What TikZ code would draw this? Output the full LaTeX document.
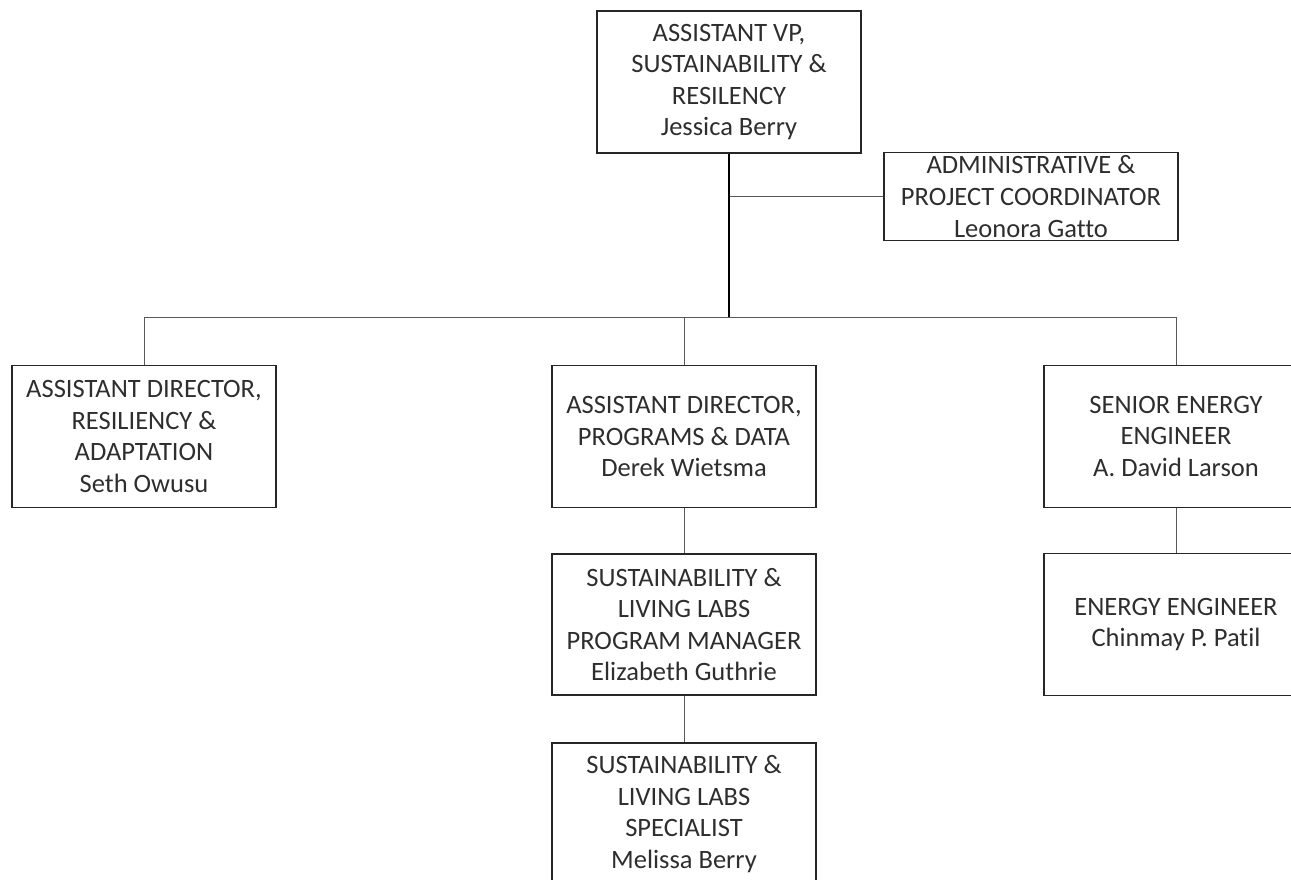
\documentclass[tikz,border=0pt]{standalone}
\usepackage{fontspec}
\setmainfont{Carlito}[Ligatures=NoCommon]
\begin{document}
\begin{tikzpicture}[x=1pt,y=-1pt,
  box/.style={draw=black!85, line width=1.2pt, rectangle, minimum width=264pt, minimum height=142pt,
    align=center, inner sep=0pt, font=\fontsize{26.5}{31.6}\selectfont, text=black!82},
  link/.style={draw=black!65, line width=1pt},
  trunk/.style={draw=black, line width=1.8pt}]
\useasboundingbox (0,0) rectangle (1291,880);
\clip (0,0) rectangle (1291,880);

\node[box] (vp) at (729,82) {ASSISTANT VP,\\SUSTAINABILITY \&\\RESILENCY\\Jessica Berry};
\node[box, minimum width=294pt, minimum height=88pt] (admin) at (1031,196.5) {ADMINISTRATIVE \&\\PROJECT COORDINATOR\\Leonora Gatto};

\node[box] (left) at (144,436.5) {ASSISTANT DIRECTOR,\\RESILIENCY \&\\ADAPTATION\\Seth Owusu};
\node[box] (mid) at (684,436.5) {ASSISTANT DIRECTOR,\\PROGRAMS \& DATA\\Derek Wietsma};
\node[box] (right) at (1176,436.5) {SENIOR ENERGY\\ENGINEER\\A. David Larson};

\node[box, minimum height=141pt] (mid2) at (684,624.5) {SUSTAINABILITY \&\\LIVING LABS\\PROGRAM MANAGER\\Elizabeth Guthrie};
\node[box] (mid3) at (684,814) {SUSTAINABILITY \&\\LIVING LABS\\SPECIALIST\\Melissa Berry};
\node[box] (right2) at (1176,624.5) {ENERGY ENGINEER\\Chinmay P. Patil};

\coordinate (j) at (729,317);

\draw[link] (vp.south |- admin.west) -- (admin.west);
\draw[link] (left.north) -- (left.north |- j) -- (right.north |- j) -- (right.north);
\draw[link] (mid.north) -- (mid.north |- j);
\draw[trunk] (vp.south) -- (j);
\draw[link] (mid.south) -- (mid2.north);
\draw[link] (mid2.south) -- (mid3.north);
\draw[link] (right.south) -- (right2.north);
\end{tikzpicture}
\end{document}
